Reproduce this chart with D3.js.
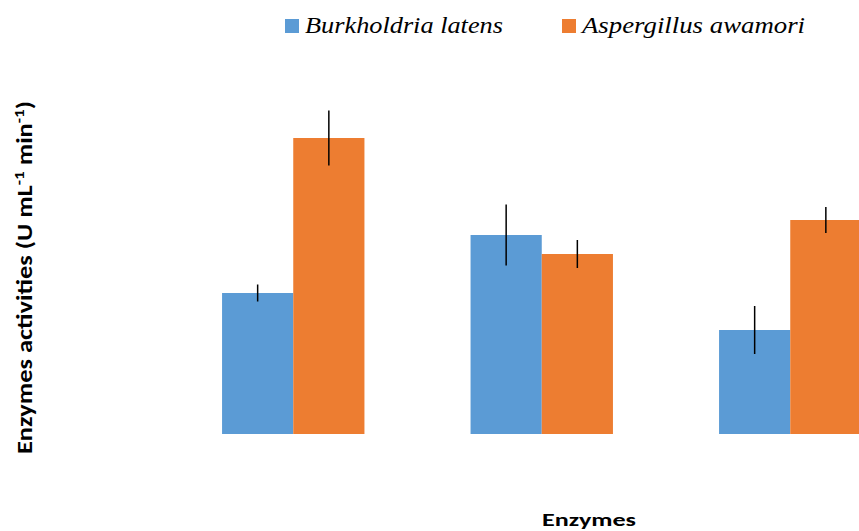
<!DOCTYPE html>
<html>
<head>
<meta charset="utf-8">
<script src="https://cdn.jsdelivr.net/npm/d3@7"></script>
<style>
  html, body { margin: 0; padding: 0; background: #fff; }
  svg { display: block; }
</style>
</head>
<body>
<svg id="chart" width="859" height="531"></svg>
<script>
// ---- data ----
const categories = ["Enzyme 1", "Enzyme 2", "Enzyme 3"];
const seriesNames = ["Burkholdria latens", "Aspergillus awamori"];
const burkholdriaValues = [1.41, 1.99, 1.04];
const burkholdriaErrors = [0.085, 0.305, 0.24];
const aspergillusValues = [2.96, 1.80, 2.14];
const aspergillusErrors = [0.275, 0.14, 0.13];
const seriesColors = ["#5B9BD5", "#ED7D31"];

const series = [
  { name: seriesNames[0], values: burkholdriaValues, errors: burkholdriaErrors, color: seriesColors[0] },
  { name: seriesNames[1], values: aspergillusValues, errors: aspergillusErrors, color: seriesColors[1] }
];

const svg = d3.select("#chart");

// Plot area (extends beyond the right edge, as in the cropped reference)
const plotLeft = 169, plotRight = 914.5, baseline = 434;

const x0 = d3.scaleBand()
  .domain(categories)
  .range([plotLeft, plotRight])
  .paddingInner(0.427)
  .paddingOuter(0.2135);

const x1 = d3.scaleBand()
  .domain(seriesNames)
  .range([0, x0.bandwidth()])
  .padding(0);

const y = d3.scaleLinear()
  .domain([0, 3.5])
  .range([baseline, baseline - 350]);

const g = svg.append("g");

series.forEach(s => {
  g.append("g").selectAll("rect")
    .data(categories)
    .join("rect")
    .attr("x", (c) => x0(c) + x1(s.name))
    .attr("y", (c, i) => y(s.values[i]))
    .attr("width", x1.bandwidth())
    .attr("height", (c, i) => y(0) - y(s.values[i]))
    .attr("fill", s.color);
});

series.forEach(s => {
  g.append("g").selectAll("line")
    .data(categories)
    .join("line")
    .attr("x1", (c) => x0(c) + x1(s.name) + x1.bandwidth() / 2)
    .attr("x2", (c) => x0(c) + x1(s.name) + x1.bandwidth() / 2)
    .attr("y1", (c, i) => y(s.values[i] + s.errors[i]))
    .attr("y2", (c, i) => y(s.values[i] - s.errors[i]))
    .attr("stroke", "#000")
    .attr("stroke-width", 1.5);
});

// ---- legend ----
const legendItems = [
  { name: seriesNames[0], color: seriesColors[0], sx: 285, tx: 305, w: 198 },
  { name: seriesNames[1], color: seriesColors[1], sx: 562, tx: 582, w: 223 }
];
legendItems.forEach(it => {
  svg.append("rect")
    .attr("x", it.sx).attr("y", 19)
    .attr("width", 14).attr("height", 14)
    .attr("fill", it.color);
  svg.append("text")
    .attr("x", it.tx).attr("y", 33)
    .style("font-family", "\"Liberation Serif\"")
    .style("font-style", "italic")
    .style("font-size", "23px")
    .attr("fill", "#000")
    .attr("textLength", it.w)
    .attr("lengthAdjust", "spacingAndGlyphs")
    .text(it.name);
});

// ---- axis titles ----
const yTitle = svg.append("text")
  .attr("transform", "translate(31.5,277.5) rotate(-90)")
  .attr("text-anchor", "middle")
  .style("font-family", "\"Carlito\"")
  .style("font-weight", "bold")
  .style("font-size", "21.5px")
  .attr("fill", "#000")
  .attr("textLength", 353)
  .attr("lengthAdjust", "spacingAndGlyphs");
yTitle.append("tspan").text("Enzymes activities (U mL");
yTitle.append("tspan").style("font-size", "14px").attr("dy", -8).text("-1");
yTitle.append("tspan").attr("dy", 8).text(" min");
yTitle.append("tspan").style("font-size", "14px").attr("dy", -8).text("-1");
yTitle.append("tspan").attr("dy", 8).text(")");

svg.append("text")
  .attr("x", 589).attr("y", 525.5)
  .attr("text-anchor", "middle")
  .style("font-family", "\"Carlito\"")
  .style("font-weight", "bold")
  .style("font-size", "19px")
  .attr("fill", "#000")
  .attr("textLength", 94)
  .attr("lengthAdjust", "spacingAndGlyphs")
  .text("Enzymes");
</script>
</body>
</html>
